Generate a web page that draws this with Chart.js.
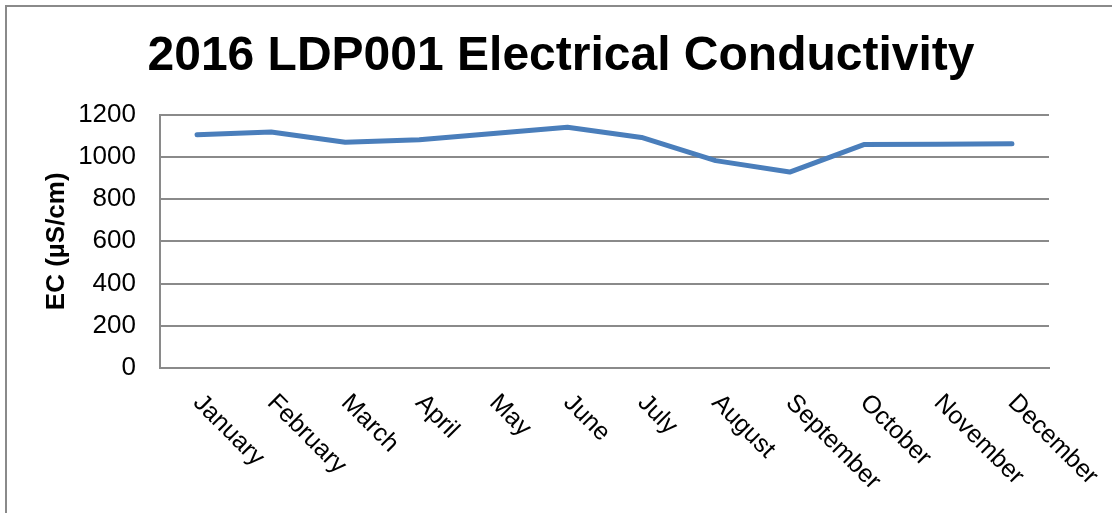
<!DOCTYPE html>
<html>
<head>
    <title>2016 LDP001 Electrical Conductivity</title>
    <script src="https://cdn.jsdelivr.net/npm/chart.js"></script>
    <style>
        body { margin: 0; background: #fff; font-family: "Liberation Sans", Arial, sans-serif; }
        .wrap { position: relative; width: 1112px; height: 513px; overflow: hidden; }
        .frame { position: absolute; left: 5px; top: 5px; width: 1200px; height: 600px; border: 2px solid #8a8a8a; pointer-events: none; }
    </style>
</head>
<body>
    <div class="wrap">
        <canvas id="ecChart" width="1112" height="513"></canvas>
        <div class="frame"></div>
    </div>

    <script>
        // chart data
        const months = ['January', 'February', 'March', 'April', 'May', 'June',
                        'July', 'August', 'September', 'October', 'November', 'December'];
        const ecValues = [1104, 1118, 1069, 1081, 1111, 1140, 1092, 982, 928, 1058, 1059, 1062];
        const yTicks = [0, 200, 400, 600, 800, 1000, 1200];

        const FONT = '"Liberation Sans", Arial, sans-serif';

        // month labels slanted down to the right, as in the original
        const slantLabels = {
            id: 'slantLabels',
            afterDraw(chart) {
                const ctx = chart.ctx;
                const xs = chart.scales.x;
                const bottom = chart.chartArea.bottom;
                ctx.save();
                ctx.font = '25px ' + FONT;
                ctx.fillStyle = '#000';
                ctx.textAlign = 'left';
                ctx.textBaseline = 'middle';
                months.forEach((m, i) => {
                    const x = xs.getPixelForTick(i);
                    ctx.save();
                    ctx.translate(x, bottom + 31);
                    ctx.rotate(Math.PI / 4);
                    ctx.fillText(m, 0, 0);
                    ctx.restore();
                });
                ctx.restore();
            }
        };

        new Chart(document.getElementById('ecChart'), {
            type: 'line',
            data: {
                labels: months,
                datasets: [{
                    label: 'EC',
                    data: ecValues,
                    borderColor: '#4a7ebb',
                    borderWidth: 5,
                    borderCapStyle: 'round',
                    borderJoinStyle: 'round',
                    pointRadius: 0,
                    tension: 0,
                    fill: false
                }]
            },
            options: {
                responsive: false,
                animation: false,
                layout: { padding: { left: 10, right: 0, top: 0, bottom: 145 } },
                plugins: {
                    legend: { display: false },
                    tooltip: { enabled: false },
                    title: {
                        display: true,
                        text: '2016 LDP001 Electrical Conductivity',
                        color: '#000',
                        font: { family: FONT, size: 48, weight: 'bold' },
                        padding: { top: 28, bottom: 29 }
                    }
                },
                scales: {
                    x: {
                        offset: true,
                        grid: { display: false, drawTicks: false },
                        border: { display: true, color: '#8a8a8a', width: 2 },
                        ticks: { display: false }
                    },
                    y: {
                        min: 0,
                        max: 1200,
                        afterFit: s => { s.width = 150; },
                        afterBuildTicks: s => { s.ticks = yTicks.map(v => ({ value: v })); },
                        grid: { color: '#8a8a8a', lineWidth: 2, drawTicks: false },
                        border: { display: true, color: '#8a8a8a', width: 2 },
                        ticks: {
                            padding: 24,
                            color: '#000',
                            font: { family: FONT, size: 26 },
                            callback: v => String(v)
                        },
                        title: {
                            display: true,
                            text: 'EC (µS/cm)',
                            color: '#000',
                            font: { family: FONT, size: 26, weight: 'bold' },
                            padding: { top: 31, bottom: 0 }
                        }
                    },
                    // empty right-hand space so the title centres like the original
                    yRight: {
                        position: 'right',
                        display: true,
                        afterFit: s => { s.width = 63; },
                        grid: { display: false, drawTicks: false },
                        border: { display: false },
                        ticks: { display: false }
                    }
                }
            },
            plugins: [slantLabels]
        });
    </script>
</body>
</html>
